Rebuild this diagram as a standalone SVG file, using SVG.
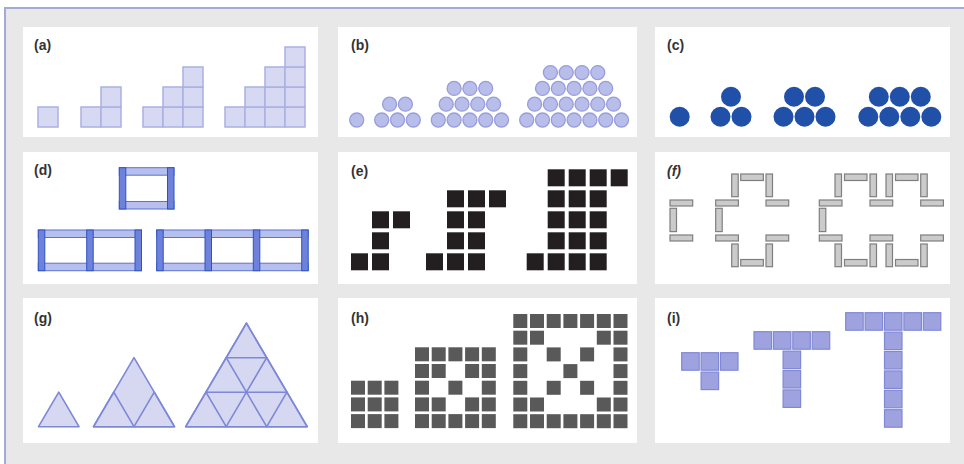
<svg xmlns="http://www.w3.org/2000/svg" width="964" height="464" viewBox="0 0 964 464">
<style>
.lbl{font-family:"Liberation Sans",Arial,sans-serif;font-weight:bold;font-size:14px;fill:#333}
.panel{fill:#fff}
.sqa{fill:#d7d8f2;stroke:#abb0e2;stroke-width:1.5}
.cb{fill:#b9bde9;stroke:#979ddb;stroke-width:1.3}
.cc{fill:#2150a8}
.hb{fill:#b7bfee;stroke:#5a72d4;stroke-width:1}
.vb{fill:#6e82dc;stroke:#3053c2;stroke-width:1}
.be{fill:#231f20}
.tp{fill:#cbcbcb;stroke:#7f7f7f;stroke-width:1.2}
.tri{fill:#d6d7f1;stroke:#7d88d8;stroke-width:1.6;stroke-linejoin:round}
.tl{fill:none;stroke:#7d88d8;stroke-width:1.6;stroke-linejoin:round}
.gh{fill:#595959}
.bi{fill:#9ea3e0;stroke:#8088d6;stroke-width:1.2}
</style>
<rect x="0" y="0" width="964" height="464" fill="#fff"/>
<rect x="5" y="8" width="959" height="456" fill="#e8e8e8"/>
<path d="M5 464 V8 H964" fill="none" stroke="#a4aad8" stroke-width="2"/>

<g id="panel-a">
<rect class="panel" x="23" y="27" width="295" height="110"/>
<text class="lbl" x="34" y="50">(a)</text>
<rect class="sqa" x="38" y="107" width="20" height="20"/>
<rect class="sqa" x="81" y="107" width="20" height="20"/>
<rect class="sqa" x="101" y="107" width="20" height="20"/>
<rect class="sqa" x="101" y="87" width="20" height="20"/>
<rect class="sqa" x="143" y="107" width="20" height="20"/>
<rect class="sqa" x="163" y="107" width="20" height="20"/>
<rect class="sqa" x="183" y="107" width="20" height="20"/>
<rect class="sqa" x="163" y="87" width="20" height="20"/>
<rect class="sqa" x="183" y="87" width="20" height="20"/>
<rect class="sqa" x="183" y="67" width="20" height="20"/>
<rect class="sqa" x="225" y="107" width="20" height="20"/>
<rect class="sqa" x="245" y="107" width="20" height="20"/>
<rect class="sqa" x="265" y="107" width="20" height="20"/>
<rect class="sqa" x="285" y="107" width="20" height="20"/>
<rect class="sqa" x="245" y="87" width="20" height="20"/>
<rect class="sqa" x="265" y="87" width="20" height="20"/>
<rect class="sqa" x="285" y="87" width="20" height="20"/>
<rect class="sqa" x="265" y="67" width="20" height="20"/>
<rect class="sqa" x="285" y="67" width="20" height="20"/>
<rect class="sqa" x="285" y="47" width="20" height="20"/>
</g>

<g id="panel-b">
<rect class="panel" x="338" y="27" width="299" height="110"/>
<text class="lbl" x="351" y="50">(b)</text>
<circle class="cb" cx="356.7" cy="120" r="7"/>
<circle class="cb" cx="381.7" cy="120" r="7"/>
<circle class="cb" cx="397.5" cy="120" r="7"/>
<circle class="cb" cx="413.3" cy="120" r="7"/>
<circle class="cb" cx="389.6" cy="104.2" r="7"/>
<circle class="cb" cx="405.4" cy="104.2" r="7"/>
<circle class="cb" cx="438.3" cy="120" r="7"/>
<circle class="cb" cx="454.1" cy="120" r="7"/>
<circle class="cb" cx="469.9" cy="120" r="7"/>
<circle class="cb" cx="485.7" cy="120" r="7"/>
<circle class="cb" cx="501.5" cy="120" r="7"/>
<circle class="cb" cx="446.2" cy="104.2" r="7"/>
<circle class="cb" cx="462" cy="104.2" r="7"/>
<circle class="cb" cx="477.8" cy="104.2" r="7"/>
<circle class="cb" cx="493.6" cy="104.2" r="7"/>
<circle class="cb" cx="454.1" cy="88.4" r="7"/>
<circle class="cb" cx="469.9" cy="88.4" r="7"/>
<circle class="cb" cx="485.7" cy="88.4" r="7"/>
<circle class="cb" cx="526.7" cy="120" r="7"/>
<circle class="cb" cx="542.5" cy="120" r="7"/>
<circle class="cb" cx="558.3" cy="120" r="7"/>
<circle class="cb" cx="574.1" cy="120" r="7"/>
<circle class="cb" cx="589.9" cy="120" r="7"/>
<circle class="cb" cx="605.7" cy="120" r="7"/>
<circle class="cb" cx="621.5" cy="120" r="7"/>
<circle class="cb" cx="534.6" cy="104.2" r="7"/>
<circle class="cb" cx="550.4" cy="104.2" r="7"/>
<circle class="cb" cx="566.2" cy="104.2" r="7"/>
<circle class="cb" cx="582" cy="104.2" r="7"/>
<circle class="cb" cx="597.8" cy="104.2" r="7"/>
<circle class="cb" cx="613.6" cy="104.2" r="7"/>
<circle class="cb" cx="542.5" cy="88.4" r="7"/>
<circle class="cb" cx="558.3" cy="88.4" r="7"/>
<circle class="cb" cx="574.1" cy="88.4" r="7"/>
<circle class="cb" cx="589.9" cy="88.4" r="7"/>
<circle class="cb" cx="605.7" cy="88.4" r="7"/>
<circle class="cb" cx="550.4" cy="72.6" r="7"/>
<circle class="cb" cx="566.2" cy="72.6" r="7"/>
<circle class="cb" cx="582" cy="72.6" r="7"/>
<circle class="cb" cx="597.8" cy="72.6" r="7"/>
</g>

<g id="panel-c">
<rect class="panel" x="655" y="27" width="295" height="110"/>
<text class="lbl" x="667" y="50">(c)</text>
<circle class="cc" cx="679.7" cy="116.7" r="10"/>
<circle class="cc" cx="720.5" cy="116.7" r="10"/>
<circle class="cc" cx="741.5" cy="116.7" r="10"/>
<circle class="cc" cx="731" cy="96.7" r="10"/>
<circle class="cc" cx="783.5" cy="116.7" r="10"/>
<circle class="cc" cx="804.5" cy="116.7" r="10"/>
<circle class="cc" cx="825.5" cy="116.7" r="10"/>
<circle class="cc" cx="794" cy="96.7" r="10"/>
<circle class="cc" cx="815" cy="96.7" r="10"/>
<circle class="cc" cx="868.3" cy="116.7" r="10"/>
<circle class="cc" cx="889.3" cy="116.7" r="10"/>
<circle class="cc" cx="910.3" cy="116.7" r="10"/>
<circle class="cc" cx="931.3" cy="116.7" r="10"/>
<circle class="cc" cx="878.8" cy="96.7" r="10"/>
<circle class="cc" cx="899.8" cy="96.7" r="10"/>
<circle class="cc" cx="920.8" cy="96.7" r="10"/>
</g>

<g id="panel-d">
<rect class="panel" x="23" y="152" width="295" height="132"/>
<text class="lbl" x="34" y="175">(d)</text>
<rect class="hb" x="119.3" y="167.7" width="54.7" height="7.5"/>
<rect class="hb" x="119.3" y="201.5" width="54.7" height="7.5"/>
<rect class="vb" x="119.3" y="167.7" width="6.5" height="41.3"/>
<rect class="vb" x="167.5" y="167.7" width="6.5" height="41.3"/>
<rect class="hb" x="38.3" y="230" width="103.2" height="7.5"/>
<rect class="hb" x="38.3" y="263.2" width="103.2" height="7.5"/>
<rect class="vb" x="38.3" y="230" width="6.5" height="40.7"/>
<rect class="vb" x="86.7" y="230" width="6.5" height="40.7"/>
<rect class="vb" x="135" y="230" width="6.5" height="40.7"/>
<rect class="hb" x="156.7" y="230" width="151.5" height="7.5"/>
<rect class="hb" x="156.7" y="263.2" width="151.5" height="7.5"/>
<rect class="vb" x="156.7" y="230" width="6.5" height="40.7"/>
<rect class="vb" x="205" y="230" width="6.5" height="40.7"/>
<rect class="vb" x="253.3" y="230" width="6.5" height="40.7"/>
<rect class="vb" x="301.7" y="230" width="6.5" height="40.7"/>
</g>

<g id="panel-e">
<rect class="panel" x="338" y="152" width="299" height="132"/>
<text class="lbl" x="351" y="176">(e)</text>
<rect class="be" x="351" y="253.3" width="17" height="17"/>
<rect class="be" x="372" y="253.3" width="17" height="17"/>
<rect class="be" x="372" y="232.3" width="17" height="17"/>
<rect class="be" x="372" y="211.3" width="17" height="17"/>
<rect class="be" x="393" y="211.3" width="17" height="17"/>
<rect class="be" x="426" y="253.3" width="17" height="17"/>
<rect class="be" x="447" y="253.3" width="17" height="17"/>
<rect class="be" x="468" y="253.3" width="17" height="17"/>
<rect class="be" x="447" y="232.3" width="17" height="17"/>
<rect class="be" x="468" y="232.3" width="17" height="17"/>
<rect class="be" x="447" y="211.3" width="17" height="17"/>
<rect class="be" x="468" y="211.3" width="17" height="17"/>
<rect class="be" x="447" y="190.3" width="17" height="17"/>
<rect class="be" x="468" y="190.3" width="17" height="17"/>
<rect class="be" x="489" y="190.3" width="17" height="17"/>
<rect class="be" x="526.7" y="253.3" width="17" height="17"/>
<rect class="be" x="547.7" y="253.3" width="17" height="17"/>
<rect class="be" x="568.7" y="253.3" width="17" height="17"/>
<rect class="be" x="589.7" y="253.3" width="17" height="17"/>
<rect class="be" x="547.7" y="232.3" width="17" height="17"/>
<rect class="be" x="568.7" y="232.3" width="17" height="17"/>
<rect class="be" x="589.7" y="232.3" width="17" height="17"/>
<rect class="be" x="547.7" y="211.3" width="17" height="17"/>
<rect class="be" x="568.7" y="211.3" width="17" height="17"/>
<rect class="be" x="589.7" y="211.3" width="17" height="17"/>
<rect class="be" x="547.7" y="190.3" width="17" height="17"/>
<rect class="be" x="568.7" y="190.3" width="17" height="17"/>
<rect class="be" x="589.7" y="190.3" width="17" height="17"/>
<rect class="be" x="547.7" y="169.3" width="17" height="17"/>
<rect class="be" x="568.7" y="169.3" width="17" height="17"/>
<rect class="be" x="589.7" y="169.3" width="17" height="17"/>
<rect class="be" x="610.7" y="169.3" width="17" height="17"/>
</g>

<g id="panel-f">
<rect class="panel" x="655" y="152" width="295" height="132"/>
<text class="lbl" x="667" y="176" font-style="italic">(f)</text>
<rect class="tp" x="670" y="200" width="22.7" height="6"/>
<rect class="tp" x="670" y="208.3" width="6.5" height="23.3"/>
<rect class="tp" x="670" y="235" width="22.7" height="6"/>

<rect class="tp" x="731.7" y="174" width="6.5" height="22.7"/>
<rect class="tp" x="740.7" y="174" width="22.7" height="6.5"/>
<rect class="tp" x="766" y="174" width="6.5" height="22.7"/>
<rect class="tp" x="715.7" y="200" width="22.7" height="6"/>
<rect class="tp" x="766" y="200" width="22.7" height="6"/>
<rect class="tp" x="715.7" y="208.3" width="6.5" height="23.3"/>
<rect class="tp" x="715.7" y="235" width="22.7" height="6"/>
<rect class="tp" x="766" y="235" width="22.7" height="6"/>
<rect class="tp" x="731.7" y="244" width="6.5" height="22.7"/>
<rect class="tp" x="766" y="244" width="6.5" height="22.7"/>
<rect class="tp" x="740.7" y="259.5" width="22.7" height="6.5"/>

<rect class="tp" x="835" y="174" width="6.5" height="22.7"/>
<rect class="tp" x="870" y="174" width="6.5" height="22.7"/>
<rect class="tp" x="886" y="174" width="6.5" height="22.7"/>
<rect class="tp" x="920.7" y="174" width="6.5" height="22.7"/>
<rect class="tp" x="844.5" y="174" width="22.5" height="6.5"/>
<rect class="tp" x="895.5" y="174" width="22.5" height="6.5"/>
<rect class="tp" x="819.3" y="200" width="22.7" height="6"/>
<rect class="tp" x="870" y="200" width="22.7" height="6"/>
<rect class="tp" x="920.7" y="200" width="22.7" height="6"/>
<rect class="tp" x="819.3" y="208.3" width="6.5" height="23.3"/>
<rect class="tp" x="819.3" y="235" width="22.7" height="6"/>
<rect class="tp" x="870" y="235" width="22.7" height="6"/>
<rect class="tp" x="920.7" y="235" width="22.7" height="6"/>
<rect class="tp" x="835" y="244" width="6.5" height="22.7"/>
<rect class="tp" x="870" y="244" width="6.5" height="22.7"/>
<rect class="tp" x="886" y="244" width="6.5" height="22.7"/>
<rect class="tp" x="920.7" y="244" width="6.5" height="22.7"/>
<rect class="tp" x="844.5" y="259.5" width="22.5" height="6.5"/>
<rect class="tp" x="895.5" y="259.5" width="22.5" height="6.5"/>
</g>

<g id="panel-g">
<rect class="panel" x="23" y="298" width="295" height="145"/>
<text class="lbl" x="34" y="323">(g)</text>
<polygon class="tri" points="38.5,426.7 79,426.7 58.75,392.2"/>
<polygon class="tri" points="93.5,426.7 174.5,426.7 134,357.7"/>
<polygon class="tl" points="93.5,426.7 134,426.7 113.75,392.2"/>
<polygon class="tl" points="134,426.7 174.5,426.7 154.25,392.2"/>
<polygon class="tri" points="185.7,426.7 307.2,426.7 246.45,323.2"/>
<polygon class="tl" points="185.7,426.7 226.2,426.7 205.95,392.2"/>
<polygon class="tl" points="226.2,426.7 266.7,426.7 246.45,392.2"/>
<polygon class="tl" points="266.7,426.7 307.2,426.7 286.95,392.2"/>
<polygon class="tl" points="205.95,392.2 246.45,392.2 226.2,357.7"/>
<polygon class="tl" points="246.45,392.2 286.95,392.2 266.7,357.7"/>
<polygon class="tl" points="226.2,357.7 266.7,357.7 246.45,323.2"/>
</g>

<g id="panel-h">
<rect class="panel" x="338" y="298" width="299" height="145"/>
<text class="lbl" x="351" y="323">(h)</text>
<g class="gh">
<rect x="351" y="380.7" width="14" height="14"/><rect x="367.7" y="380.7" width="14" height="14"/><rect x="384.4" y="380.7" width="14" height="14"/>
<rect x="351" y="397.4" width="14" height="14"/><rect x="367.7" y="397.4" width="14" height="14"/><rect x="384.4" y="397.4" width="14" height="14"/>
<rect x="351" y="414.1" width="14" height="14"/><rect x="367.7" y="414.1" width="14" height="14"/><rect x="384.4" y="414.1" width="14" height="14"/>

<rect x="415" y="347.3" width="14" height="14"/><rect x="431.7" y="347.3" width="14" height="14"/><rect x="448.4" y="347.3" width="14" height="14"/><rect x="465.1" y="347.3" width="14" height="14"/><rect x="481.8" y="347.3" width="14" height="14"/>
<rect x="415" y="364" width="14" height="14"/><rect x="431.7" y="364" width="14" height="14"/><rect x="465.1" y="364" width="14" height="14"/><rect x="481.8" y="364" width="14" height="14"/>
<rect x="415" y="380.7" width="14" height="14"/><rect x="448.4" y="380.7" width="14" height="14"/><rect x="481.8" y="380.7" width="14" height="14"/>
<rect x="415" y="397.4" width="14" height="14"/><rect x="431.7" y="397.4" width="14" height="14"/><rect x="465.1" y="397.4" width="14" height="14"/><rect x="481.8" y="397.4" width="14" height="14"/>
<rect x="415" y="414.1" width="14" height="14"/><rect x="431.7" y="414.1" width="14" height="14"/><rect x="448.4" y="414.1" width="14" height="14"/><rect x="465.1" y="414.1" width="14" height="14"/><rect x="481.8" y="414.1" width="14" height="14"/>

<rect x="513.3" y="314" width="14" height="14"/><rect x="530" y="314" width="14" height="14"/><rect x="546.7" y="314" width="14" height="14"/><rect x="563.4" y="314" width="14" height="14"/><rect x="580.1" y="314" width="14" height="14"/><rect x="596.8" y="314" width="14" height="14"/><rect x="613.5" y="314" width="14" height="14"/>
<rect x="513.3" y="330.7" width="14" height="14"/><rect x="530" y="330.7" width="14" height="14"/><rect x="596.8" y="330.7" width="14" height="14"/><rect x="613.5" y="330.7" width="14" height="14"/>
<rect x="513.3" y="347.4" width="14" height="14"/><rect x="546.7" y="347.4" width="14" height="14"/><rect x="580.1" y="347.4" width="14" height="14"/><rect x="613.5" y="347.4" width="14" height="14"/>
<rect x="513.3" y="364.1" width="14" height="14"/><rect x="563.4" y="364.1" width="14" height="14"/><rect x="613.5" y="364.1" width="14" height="14"/>
<rect x="513.3" y="380.8" width="14" height="14"/><rect x="546.7" y="380.8" width="14" height="14"/><rect x="580.1" y="380.8" width="14" height="14"/><rect x="613.5" y="380.8" width="14" height="14"/>
<rect x="513.3" y="397.5" width="14" height="14"/><rect x="530" y="397.5" width="14" height="14"/><rect x="596.8" y="397.5" width="14" height="14"/><rect x="613.5" y="397.5" width="14" height="14"/>
<rect x="513.3" y="414.2" width="14" height="14"/><rect x="530" y="414.2" width="14" height="14"/><rect x="546.7" y="414.2" width="14" height="14"/><rect x="563.4" y="414.2" width="14" height="14"/><rect x="580.1" y="414.2" width="14" height="14"/><rect x="596.8" y="414.2" width="14" height="14"/><rect x="613.5" y="414.2" width="14" height="14"/>
</g>
</g>

<g id="panel-i">
<rect class="panel" x="655" y="298" width="295" height="145"/>
<text class="lbl" x="667" y="323">(i)</text>
<rect class="bi" x="681.7" y="352.7" width="17.5" height="17.5"/>
<rect class="bi" x="701.1" y="352.7" width="17.5" height="17.5"/>
<rect class="bi" x="720.5" y="352.7" width="17.5" height="17.5"/>
<rect class="bi" x="701.1" y="372.1" width="17.5" height="17.5"/>
<rect class="bi" x="754" y="331.7" width="17.5" height="17.5"/>
<rect class="bi" x="773.4" y="331.7" width="17.5" height="17.5"/>
<rect class="bi" x="792.8" y="331.7" width="17.5" height="17.5"/>
<rect class="bi" x="812.2" y="331.7" width="17.5" height="17.5"/>
<rect class="bi" x="783.1" y="351.1" width="17.5" height="17.5"/>
<rect class="bi" x="783.1" y="370.5" width="17.5" height="17.5"/>
<rect class="bi" x="783.1" y="389.9" width="17.5" height="17.5"/>
<rect class="bi" x="845.7" y="312.7" width="17.5" height="17.5"/>
<rect class="bi" x="865.1" y="312.7" width="17.5" height="17.5"/>
<rect class="bi" x="884.5" y="312.7" width="17.5" height="17.5"/>
<rect class="bi" x="903.9" y="312.7" width="17.5" height="17.5"/>
<rect class="bi" x="923.3" y="312.7" width="17.5" height="17.5"/>
<rect class="bi" x="884.5" y="332.1" width="17.5" height="17.5"/>
<rect class="bi" x="884.5" y="351.5" width="17.5" height="17.5"/>
<rect class="bi" x="884.5" y="370.9" width="17.5" height="17.5"/>
<rect class="bi" x="884.5" y="390.3" width="17.5" height="17.5"/>
<rect class="bi" x="884.5" y="409.7" width="17.5" height="17.5"/>
</g>
</svg>
